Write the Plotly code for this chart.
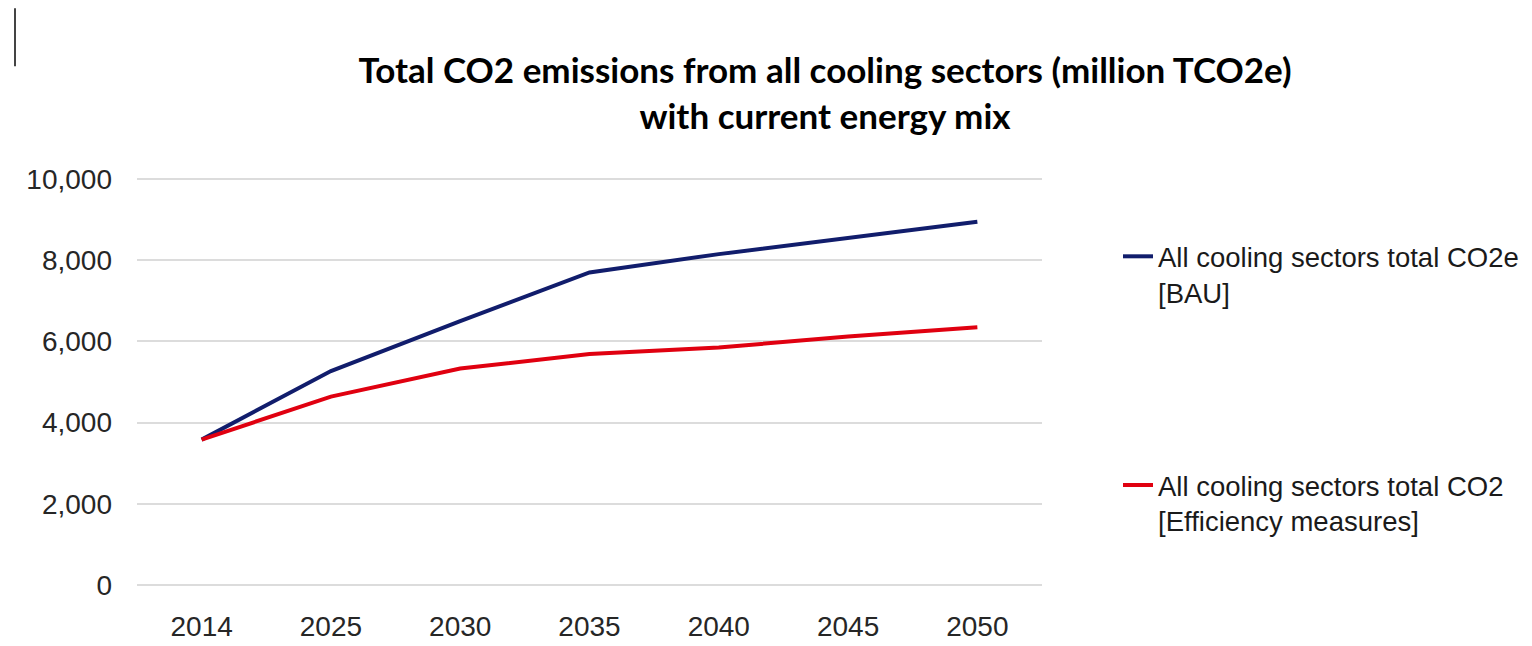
import plotly.graph_objects as go

years = ["2014", "2025", "2030", "2035", "2040", "2045", "2050"]
bau = [3580, 5270, 6500, 7700, 8150, 8560, 8950]
efficiency = [3580, 4640, 5330, 5690, 5850, 6120, 6350]
y_ticks = [0, 2000, 4000, 6000, 8000, 10000]

name_bau = "All cooling sectors total CO2e<br>[BAU]"
name_eff = "All cooling sectors total CO2<br>[Efficiency measures]"
title_text = "Total CO2 emissions from all cooling sectors (million TCO2e)<br>with current energy mix"

W, H = 1532, 646
L, R, T, B = 137, 490, 177, 58.5
PW, PH = W - L - R, H - T - B


def px_x(x):  # pixel x -> paper
    return (x - L) / PW


def px_y(y):  # pixel y -> paper
    return (H - B - y) / PH


fig = go.Figure()
fig.add_trace(go.Scatter(x=years, y=bau, mode="lines", name=name_bau,
                         line=dict(color="#111d6c", width=4), legend="legend"))
fig.add_trace(go.Scatter(x=years, y=efficiency, mode="lines", name=name_eff,
                         line=dict(color="#e00010", width=4), legend="legend2"))

axis_font = dict(family="Liberation Sans, Arial, sans-serif", size=28, color="#262626")
legend_font = dict(family="Liberation Sans, Arial, sans-serif", size=27.5, color="#1a1a1a")

fig.update_layout(
    width=W, height=H,
    margin=dict(l=L, r=R, t=T, b=B, pad=0, autoexpand=False),
    paper_bgcolor="white", plot_bgcolor="white",
    title=dict(text=title_text, x=825 / W, xanchor="center", xref="container",
               y=1 - 83 / H, yanchor="top", yref="container",
               font=dict(family="Lato, Open Sans, sans-serif", size=35, color="black", weight="bold")),
    xaxis=dict(type="category", range=[-0.5, 6.5], showgrid=False, zeroline=False,
               showline=False, ticks="", ticklabelstandoff=20, automargin=False,
               tickfont=axis_font),
    yaxis=dict(range=[-50, 10050], tickvals=y_ticks, tickformat=",d", showgrid=True,
               gridcolor="#dcdcdc", gridwidth=2, zeroline=False, showline=False, ticks="",
               ticklabelstandoff=24, automargin=False, tickfont=axis_font),
    legend=dict(x=px_x(1118), xanchor="left", y=px_y(232), yanchor="top",
                font=legend_font, valign="top", bgcolor="rgba(0,0,0,0)"),
    legend2=dict(x=px_x(1118), xanchor="left", y=px_y(461), yanchor="top",
                 font=legend_font, valign="top", bgcolor="rgba(0,0,0,0)"),
    showlegend=True,
    shapes=[dict(type="line", xref="paper", yref="paper",
                 x0=px_x(15), x1=px_x(15), y0=px_y(8), y1=px_y(66),
                 line=dict(color="#444444", width=2))],
)

fig.write_html(
    "out.html",
    config={"displayModeBar": False},
    post_script="document.body.style.margin='0px';document.body.style.overflow='hidden';",
)
